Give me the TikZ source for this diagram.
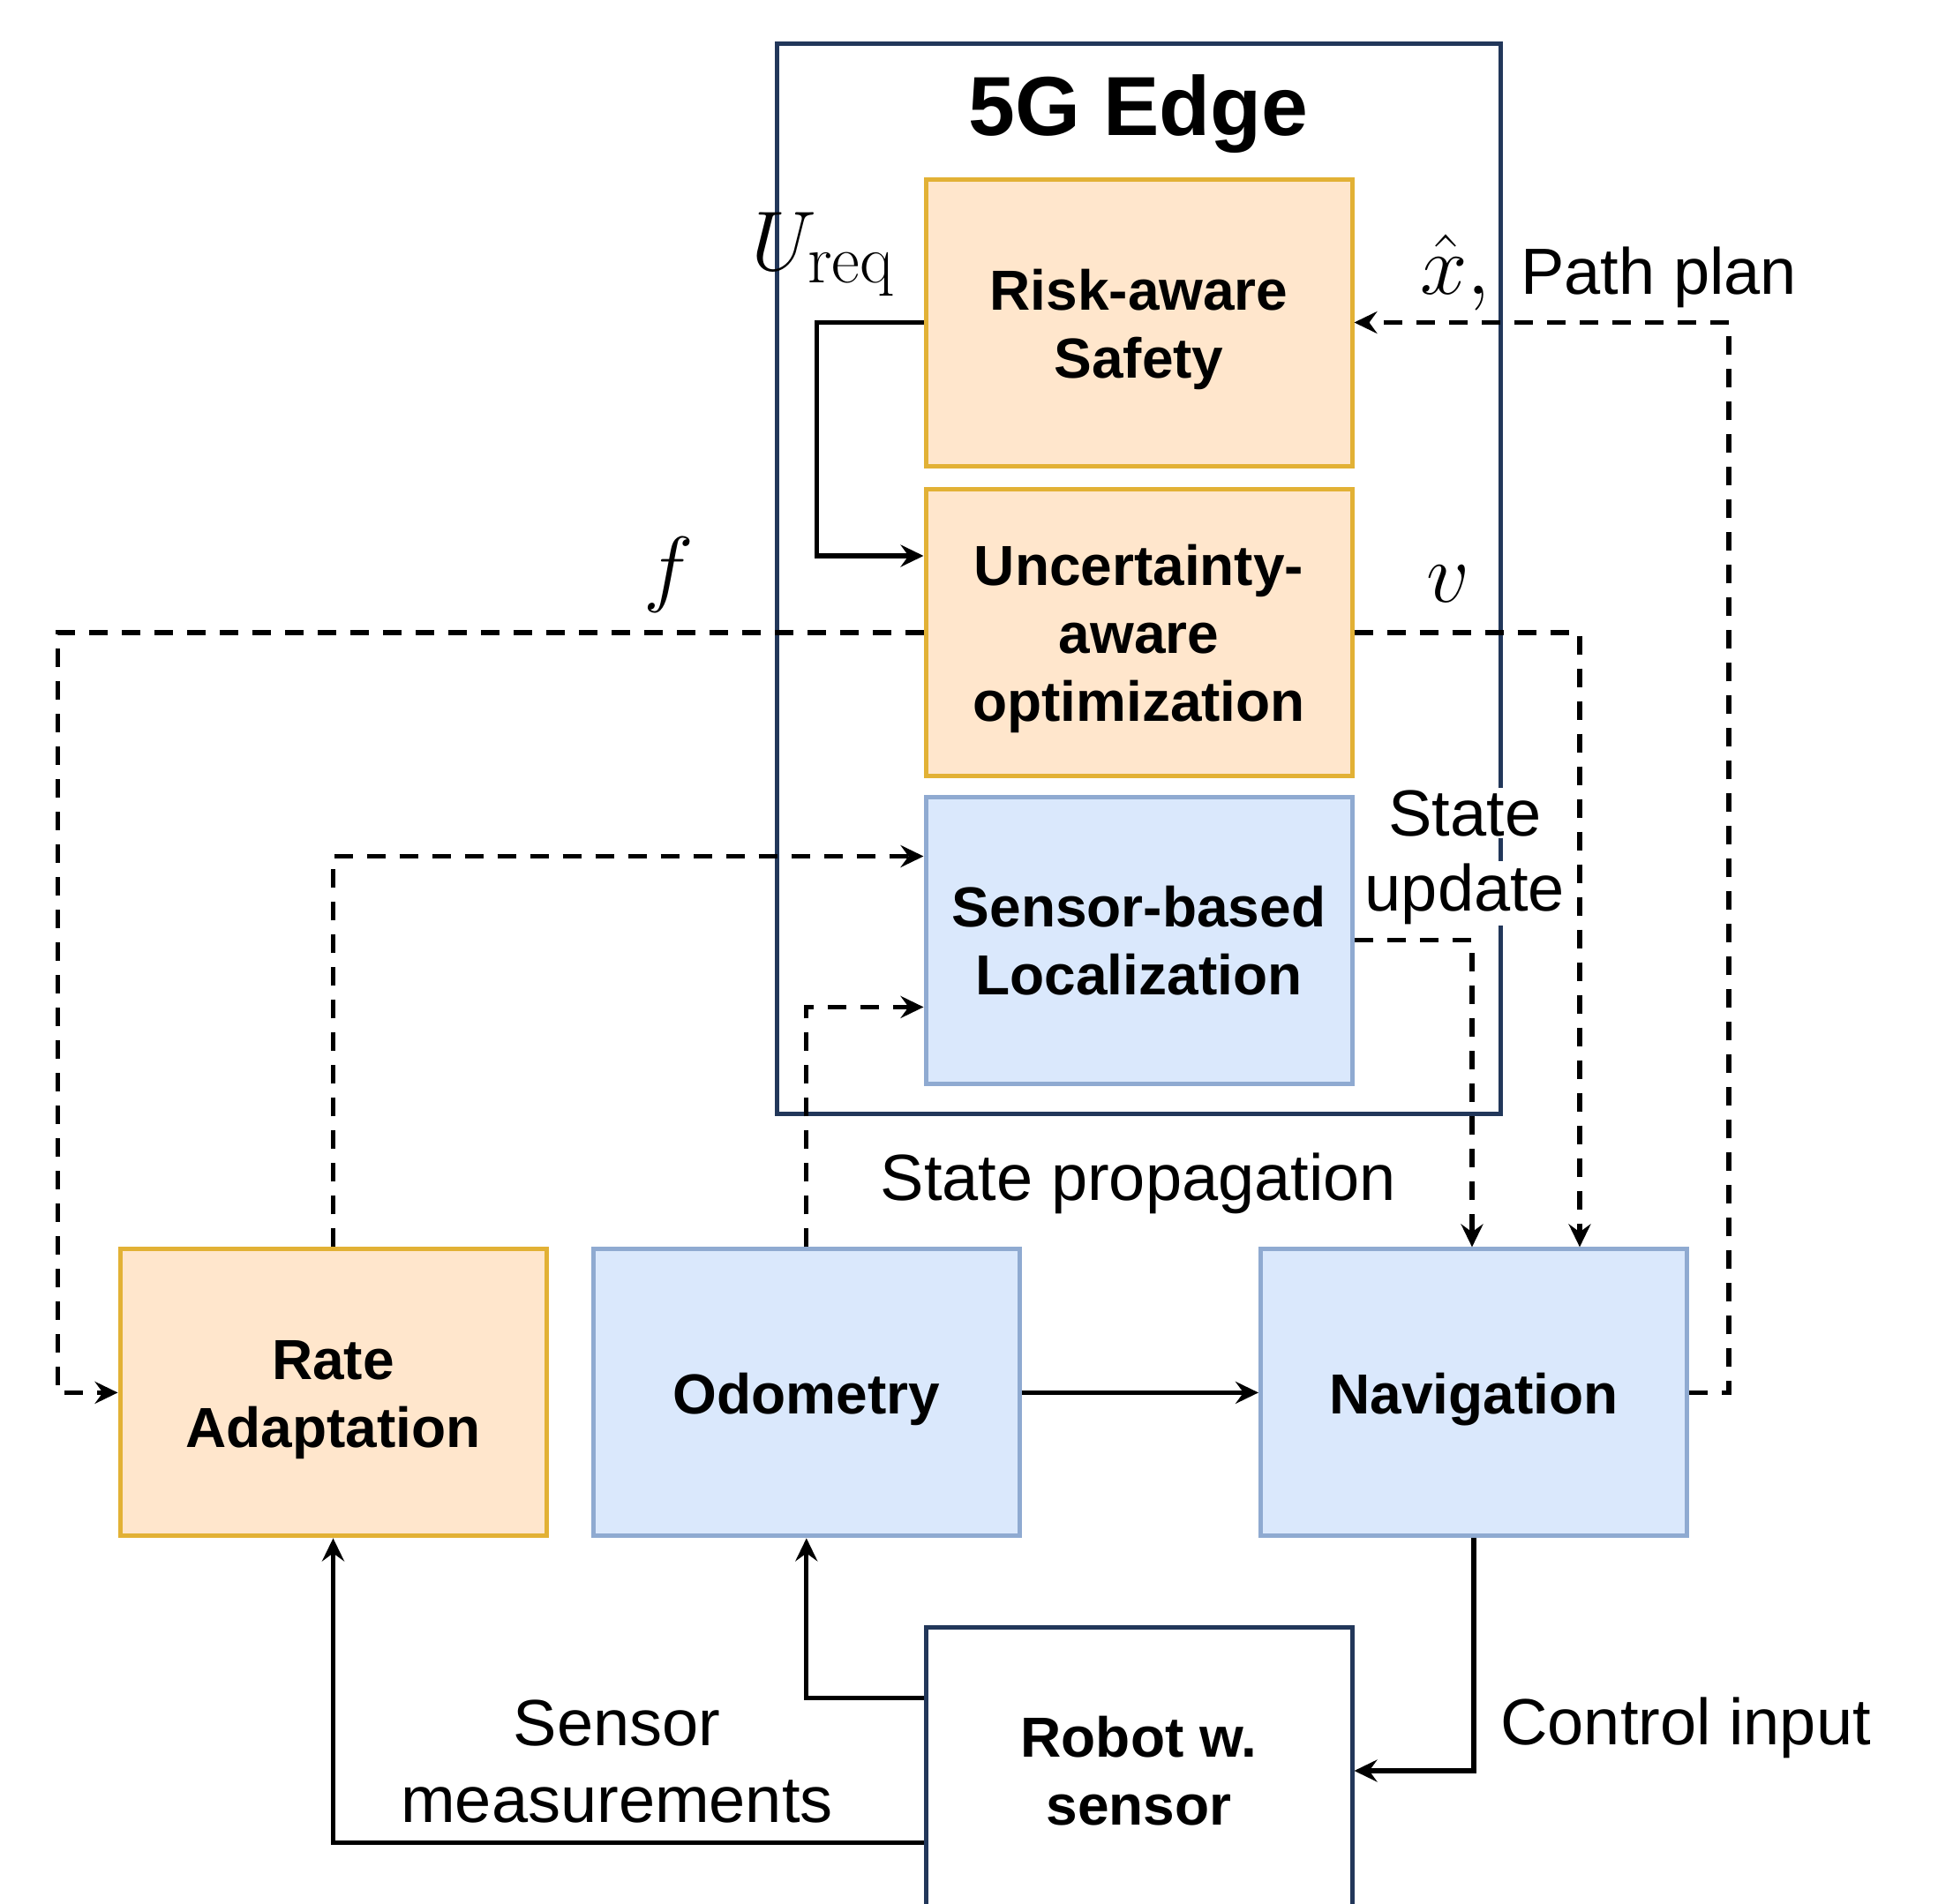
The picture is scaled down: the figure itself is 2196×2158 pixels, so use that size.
\RequirePackage{fix-cm}
\documentclass[tikz,border=0pt]{standalone}
\usepackage[no-math]{fontspec}
\setmainfont{Liberation Sans}
\usetikzlibrary{arrows.meta,calc}
\definecolor{orgfill}{HTML}{FFE6CC}
\definecolor{orgline}{HTML}{E2B135}
\definecolor{bluefill}{HTML}{DAE8FC}
\definecolor{blueline}{HTML}{8FAAD1}
\definecolor{navy}{HTML}{22375A}
% upright serif subscript, a little larger than the default script size
\newcommand{\subup}[1]{\hbox{\fontencoding{OT1}\fontfamily{cmr}\fontsize{39}{42}\selectfont #1}}
\tikzset{
  block/.style={draw, line width=2.5pt, minimum width=241.5pt, minimum height=162.5pt,
    align=center, inner sep=0pt, font=\fontsize{32}{38.5}\selectfont\bfseries},
  orangebox/.style={block, fill=orgfill, draw=orgline},
  bluebox/.style={block, fill=bluefill, draw=blueline},
  plainbox/.style={block, fill=white, draw=navy},
  boxtext/.style={align=center, inner sep=0pt, font=\fontsize{32}{38.5}\selectfont\bfseries},
  flow/.style={line width=2.6pt, -{Stealth[length=13pt,width=12.5pt,inset=4.5pt]}},
  dashflow/.style={flow, dash pattern=on 10.5pt off 8pt},
  lbl/.style={font=\fontsize{37}{43.5}\selectfont, inner sep=0pt},
  mathlbl/.style={font=\fontsize{48}{56}\selectfont, inner sep=0pt},
}
\begin{document}
\begin{tikzpicture}[x=0.5pt,y=-0.5pt]
\clip (0,0) rectangle (2196,2158);

% edge server frame and its title
\node[draw=navy, line width=2.5pt, minimum width=410pt, minimum height=606.5pt, inner sep=0pt]
  (edge) at (1290,655.5) {};
\node[font=\fontsize{47.5}{57}\selectfont\bfseries, anchor=base, inner sep=0pt]
  (edgetitle) at (1290,153) {5G Edge};

% processing blocks
\node[orangebox] (risk)   at (1290.5,365.5)  {};
\node[orangebox] (uncert) at (1290.5,717)    {};
\node[bluebox]   (loc)    at (1290.5,1065.8) {Sensor-based\\Localization};
\node[orangebox] (rate)   at (377.5,1578.4)  {};
\node[bluebox]   (odo)    at (913.8,1578.4)  {};
\node[bluebox]   (nav)    at (1670,1578.4)   {};
\node[plainbox]  (robot)  at (1290.5,2007)   {Robot w.\\sensor};

% block captions, set slightly below the geometric centre
\node[boxtext] (risktxt)   at ($(risk.center)+(0,8)$)   {Risk-aware\\Safety};
\node[boxtext] (uncerttxt) at ($(uncert.center)+(0,7)$) {Uncertainty-\\aware\\optimization};
\node[boxtext] (ratetxt)   at ($(rate.center)+(0,8)$)   {Rate\\Adaptation};
\node[boxtext] (odotxt)    at ($(odo.center)+(0,8)$)    {Odometry};
\node[boxtext] (navtxt)    at ($(nav.center)+(0,8)$)    {Navigation};

% solid connectors
\draw[flow] (risk.west) -- ++(-121,0) |- ($(uncert.west)+(0,-87)$);
\draw[flow] (odo.east) -- (nav.west);
\draw[flow] (nav.south) |- (robot.east);
\draw[flow] ($(robot.west)+(0,-82.7)$) -| (odo.south);
\draw[flow] ($(robot.west)+(0,81.1)$) -| (rate.south);

% dashed connectors
\draw[dashflow] (nav.east) -- ++(45,0) |- (risk.east);
\draw[dashflow] (uncert.west) -- ++(-981,0) |- (rate.west);
\draw[dashflow] (uncert.east) -| ($(nav.north)+(120,0)$);
\draw[dashflow] (rate.north) |- ($(loc.west)+(0,-95.3)$);
\draw[dashflow] (odo.north) |- ($(loc.west)+(0,75.6)$);
\draw[dashflow] (loc.east) -| ($(nav.north)+(-2,0)$);

% labels
\node[mathlbl, anchor=base west] (ureq) at (851,306) {$U_{\subup{req}}$};
\node[mathlbl, anchor=base west] (xhat) at (1609,333) {$\hat{x},$};
\node[lbl, anchor=base west] (pathplan) at (1723,333) {Path plan};
\node[mathlbl] (flbl) at (758,651) {$f$};
\node[mathlbl] (vlbl) at (1641,662) {$v$};
\node[lbl, anchor=base, fill=white, inner sep=1pt] (stlbl) at (1660,947) {State};
\node[lbl, anchor=base, fill=white, inner sep=1pt] (uplbl) at (1660,1032) {update};
\node[lbl, anchor=base] (proplbl) at (1290,1360) {State propagation};
\node[lbl, align=center] (senslbl) at (699,1997) {Sensor\\measurements};
\node[lbl, anchor=base west] (ctrllbl) at (1700,1977) {Control input};
\end{tikzpicture}
\end{document}
